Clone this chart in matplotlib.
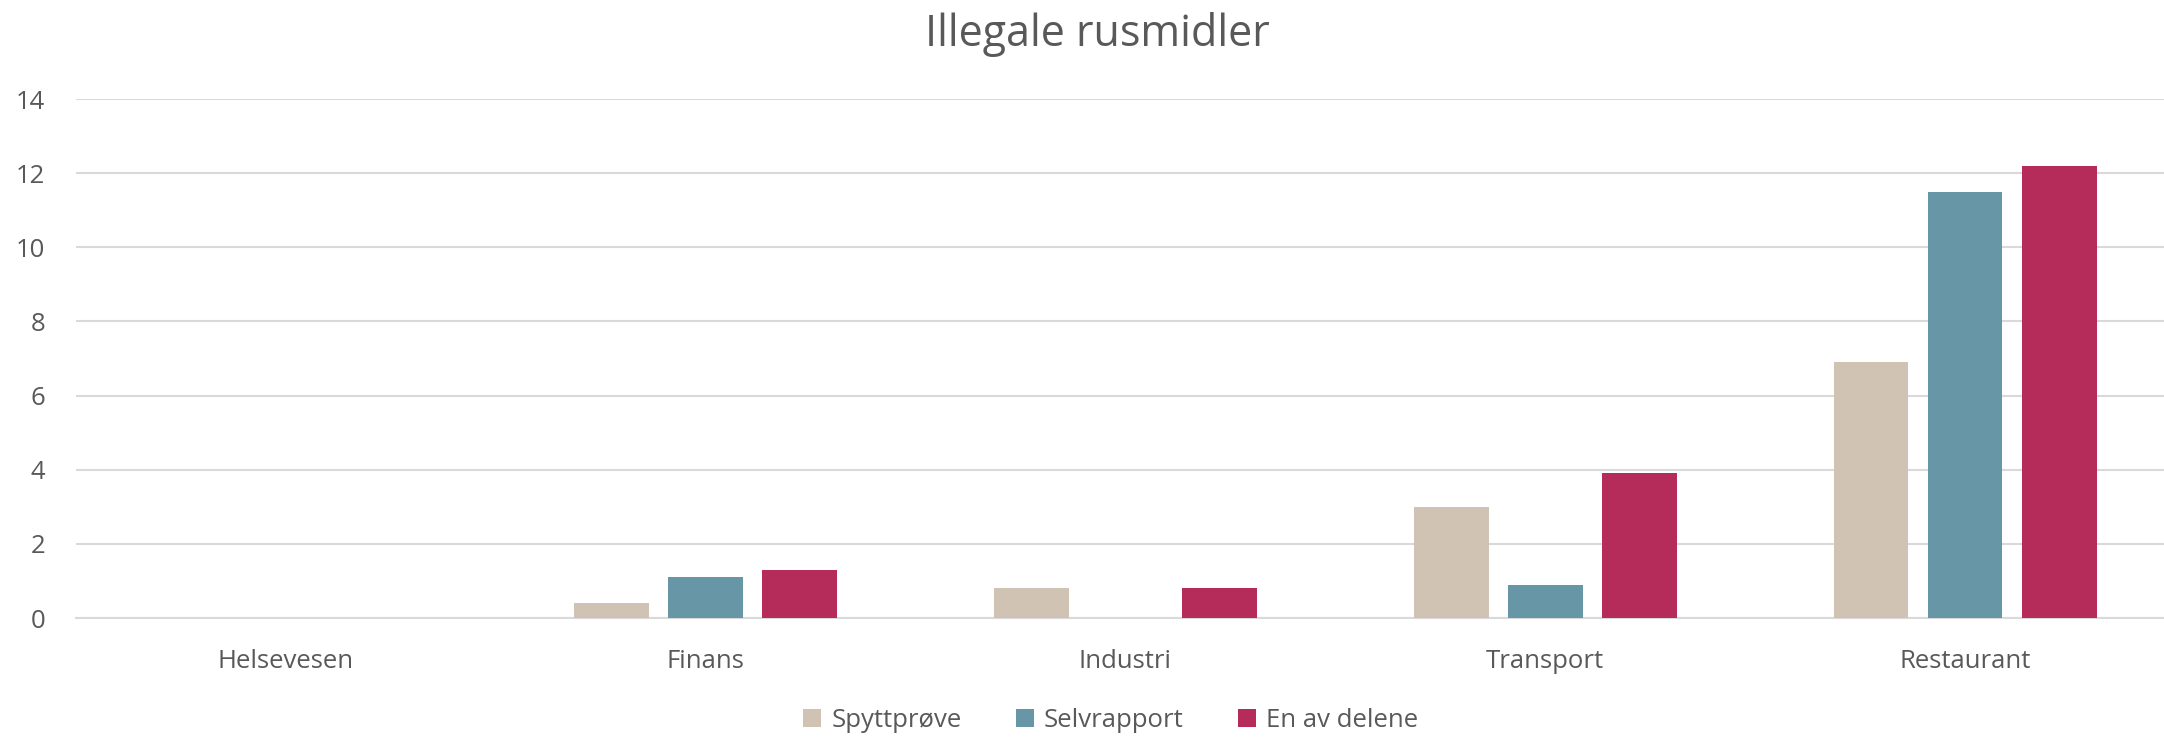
import matplotlib.pyplot as plt
import numpy as np

plt.rcParams['font.family'] = ['Open Sans', 'DejaVu Sans']

categories = ['Helsevesen', 'Finans', 'Industri', 'Transport', 'Restaurant']
spytt = [0, 0.4, 0.8, 3.0, 6.9]
selv = [0, 1.1, 0, 0.9, 11.5]
en_av = [0, 1.3, 0.8, 3.9, 12.2]
series_names = ['Spyttprøve', 'Selvrapport', 'En av delene']
colors = ['#D0C3B4', '#6797A7', '#B52C5A']
yticks = [0, 2, 4, 6, 8, 10, 12, 14]

txt = '#595959'

fig = plt.figure(figsize=(21.64, 7.39), dpi=100)
# plot area runs a bit past the right edge, like the cropped original
ax = fig.add_axes([0.0351, 0.1637, 0.970, 0.7023])

x = np.arange(len(categories))
w = 0.178
step = 0.224
for i, (vals, name, c) in enumerate(zip([spytt, selv, en_av], series_names, colors)):
    ax.bar(x + (i - 1) * step, vals, width=w, color=c, label=name, zorder=3)

ax.set_xlim(-0.5, len(categories) - 0.5)
ax.set_ylim(0, 14)
ax.set_yticks(yticks)
ax.set_xticks(x)
ax.set_xticklabels(categories)
ax.yaxis.grid(True, color='#D9D9D9', linewidth=1.5, zorder=0)
ax.set_axisbelow(True)
for s in ['top', 'right', 'left']:
    ax.spines[s].set_visible(False)
ax.spines['bottom'].set_color('#D9D9D9')
ax.spines['bottom'].set_linewidth(1.5)
ax.tick_params(axis='both', length=0, labelsize=18.5, colors=txt)
ax.tick_params(axis='x', pad=22)
ax.tick_params(axis='y', pad=22)

fig.text(0.507, 0.953, 'Illegale rusmidler', fontsize=31, color=txt,
         ha='center', va='center')

ax.legend(loc='center', bbox_to_anchor=(0.493, -0.197), ncol=3, frameon=False,
          fontsize=18.5, labelcolor=txt, handlelength=0.7, handleheight=0.7,
          handletextpad=0.4, columnspacing=2.1)

fig.savefig('out.png', dpi=100)
